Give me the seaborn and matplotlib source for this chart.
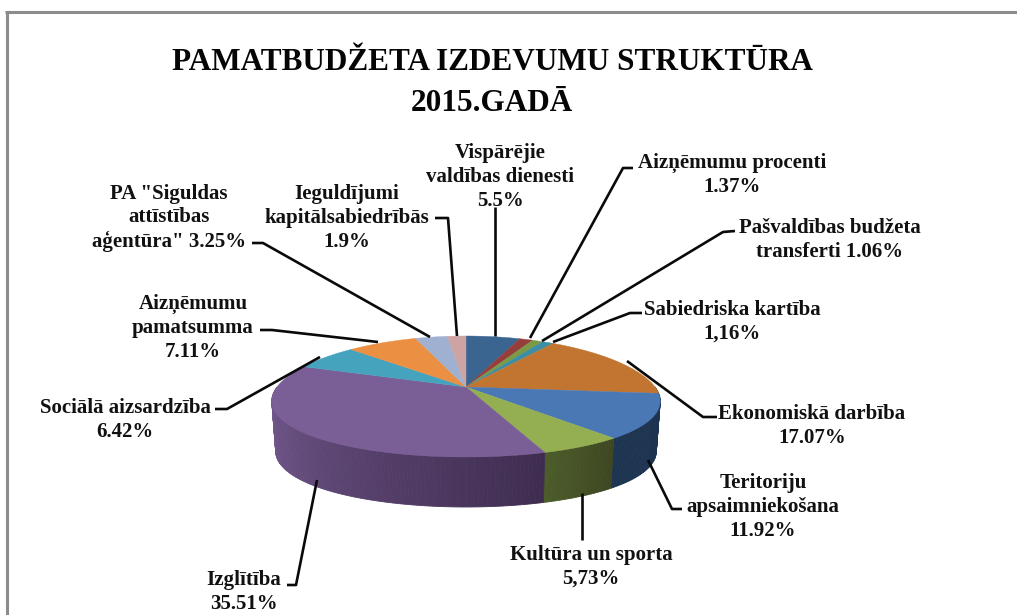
"""
Pamatbudzeta izdevumu struktura 2015 - pie with a fake 3D look
"""
import numpy as np
import matplotlib
matplotlib.use('Agg')
import matplotlib.pyplot as plt
from matplotlib.patches import Polygon
import seaborn as sns

# ── DATA ─────────────────────────────────────────────────────────────────────
categories = ['Vispārējie\nvaldības dienesti\n5.5%', 'Aizņēmumu procenti\n1.37%',
              'Pašvaldības budžeta\ntransferti 1.06%', 'Sabiedriska kartība\n1,16%',
              'Ekonomiskā darbība\n17.07%', 'Teritoriju\napsaimniekošana\n11.92%',
              'Kultūra un sporta\n5,73%', 'Izglītība\n35.51%',
              'Sociālā aizsardzība\n6.42%', 'Aizņēmumu\npamatsumma\n7.11%',
              'PA "Siguldas\nattīstības\naģentūra" 3.25%', 'Ieguldījumi\nkapitālsabiedrībās\n1.9%']
shares = [5.5, 1.37, 1.06, 1.16, 17.07, 11.92, 5.73, 35.51, 6.42, 7.11, 3.25, 1.9]
colors = ['#3B6591', '#953F3D', '#7A9A45', '#3C8EA6', '#C27530', '#4A78B4',
          '#94AE52', '#7A5E96', '#45A3BD', '#EB8F42', '#A0B0D0', '#CDA3A3']
# side wall shades, left end of the wall then right end
walls = {4: ('#6E4218', '#6E4218'), 5: ('#1E3552', '#1D3350'), 6: ('#4C5C2A', '#3E4722'),
         7: ('#7A5E96', '#3F2D50')}
title = 'PAMATBUDŽETA IZDEVUMU STRUKTŪRA\n2015.GADĀ'

# label centre x, centre y of the block
label_pos = [(500, 177), (732, 175), (830, 240), (732, 322), (812, 426), (763, 507),
             (591, 567), (244, 592), (125, 420), (193, 328), (169, 218), (347, 218)]
leaders = [[(495, 207), (495, 336)],
           [(633, 168), (623, 168), (530, 338)],
           [(735, 231), (723, 232), (542, 341)],
           [(642, 313), (630, 313), (553, 342)],
           [(717, 417), (703, 417), (627, 361)],
           [(682, 509), (672, 509), (648, 460)],
           [(582, 540), (582, 493)],
           [(287, 585), (296, 585), (317, 480)],
           [(215, 409), (227, 409), (320, 357)],
           [(260, 330), (272, 330), (378, 342)],
           [(252, 243), (263, 243), (430, 337)],
           [(435, 218), (448, 218), (457, 336)]]

# ── PIE GEOMETRY ─────────────────────────────────────────────────────────────
APEX_X, APEX_Y = 466, 387
RX, RY = 189, 59
TILT_X, TILT_Y = 0.23, 0.157
DEPTH, SHRINK = 50, 0.98


def project(theta, scale=1.0, drop=0.0):
    t = np.radians(theta)
    x, y = np.cos(t), np.sin(t)
    return np.column_stack([APEX_X + scale * RX * x / (1 + TILT_X * y),
                            APEX_Y + drop - RY * y / (1 + TILT_Y * y)])


sns.set_theme(style='white')
plt.rcParams['font.family'] = ['Liberation Serif', 'DejaVu Serif']

fig, ax = plt.subplots(figsize=(10.17, 6.15), dpi=100)
ax.set_position([0, 0, 1, 1])

# let pie() work out the slice angles, the slices are then re-drawn tilted
wedges, _ = ax.pie(shares, startangle=90, counterclock=False, colors=colors)
ax.set_aspect('auto')
ax.set_xlim(0, 1017)
ax.set_ylim(615, 0)
ax.set_frame_on(True)
for s in ax.spines.values():
    s.set_visible(False)

# side walls first
for i, w in enumerate(wedges):
    if i not in walls:
        continue
    lo, hi = w.theta1 % 360, w.theta2 % 360
    if hi <= lo:
        hi += 360
    lo = max(lo, 180)
    hi = min(hi, 360)
    n = max(int(hi - lo), 1)
    shades = sns.blend_palette(list(walls[i]), n)
    edges = np.linspace(lo, hi, n + 1)
    for j in range(n):
        arc = np.linspace(edges[j], edges[j + 1], 4)
        top = project(arc)
        bot = project(arc, SHRINK, DEPTH)
        ax.add_patch(Polygon(np.vstack([top, bot[::-1]]), closed=True, facecolor=shades[j],
                             edgecolor=shades[j], lw=0.6, zorder=2))

# top face
for w, c in zip(wedges, colors):
    w.set_visible(False)
    lo, hi = w.theta1, w.theta2
    arc = project(np.linspace(lo, hi, max(int(hi - lo) * 2, 3)))
    ax.add_patch(Polygon(np.vstack([[APEX_X, APEX_Y], arc]), closed=True, facecolor=c,
                         edgecolor=c, lw=0.3, zorder=3))

# leader lines and labels
for pts in leaders:
    xs, ys = zip(*pts)
    ax.plot(xs, ys, color='#0A0A0A', lw=1.9, solid_capstyle='butt', zorder=4)
for (x, y), txt in zip(label_pos, categories):
    ax.text(x, y, txt, ha='center', va='center', fontsize=15, fontweight='bold',
            color='#111111', linespacing=1.24, zorder=5)

ax.text(492, 83, title, ha='center', va='center', fontsize=22.5, fontweight='bold',
        color='#050505', linespacing=1.58)

# only the top and left of the chart frame are in the picture
ax.plot([5, 1017], [11.5, 11.5], color='#8C8C8C', lw=2.2, solid_capstyle='butt')
ax.plot([6.5, 6.5], [10.5, 615], color='#8C8C8C', lw=2.2, solid_capstyle='butt')

ax.set_xticks([])
ax.set_yticks([])
plt.savefig('out.png', dpi=100)
plt.close()
